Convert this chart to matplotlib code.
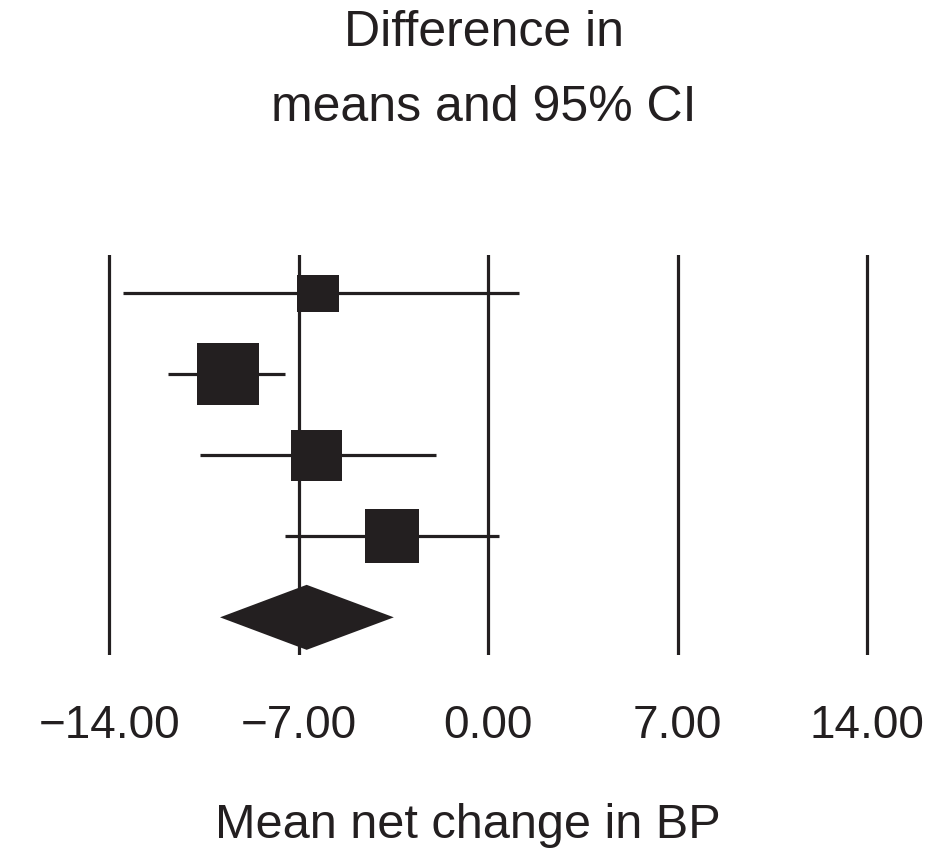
import numpy as np
import matplotlib
matplotlib.use('Agg')
from matplotlib import pyplot as plt
from matplotlib.patches import Rectangle, Polygon

plt.rcParams['font.family'] = ['Liberation Sans', 'DejaVu Sans']

# Study estimates: difference in means and 95% CI
means = [-6.30, -9.62, -6.35, -3.56]
ci_low = [-13.48, -11.83, -10.65, -7.51]
ci_high = [1.13, -7.51, -1.93, 0.40]
# box sizes (weights), width/height in pixels
box_w = [42, 62, 51, 54]
box_h = [37, 62, 51, 54]

# pooled estimate
pooled_mean = -6.71
pooled_low = -9.91
pooled_high = -3.49

ticks = [-14, -7, 0, 7, 14]
tick_labels = ['\u221214.00', '\u22127.00', '0.00', '7.00', '14.00']

ink = '#231f20'
px_x = 27.07   # pixels per x unit
px_row = 81.0  # pixels per row

fig = plt.figure(figsize=(9.48, 8.5), dpi=100)
ax = fig.add_axes([0, 1 - 655 / 850, 1, 400 / 850])
ax.set_xlim(-14 - 109.3 / px_x, (948 - 488.3) / px_x)
ax.set_ylim(4.465, -0.473)

for t in ticks:
    ax.axvline(t, color=ink, lw=2.3, zorder=1)

rows = np.arange(len(means))
ax.hlines(rows, ci_low, ci_high, color=ink, lw=2.3, zorder=2)
for r, m, w, h in zip(rows, means, box_w, box_h):
    ax.add_patch(Rectangle((m - w / px_x / 2, r - h / px_row / 2), w / px_x, h / px_row,
                           facecolor=ink, edgecolor='none', zorder=3))

r_pool = len(means)
half_h = 32.5 / px_row
diamond = [(pooled_low, r_pool), (pooled_mean, r_pool - half_h),
           (pooled_high, r_pool), (pooled_mean, r_pool + half_h)]
ax.add_patch(Polygon(diamond, closed=True, facecolor=ink, edgecolor='none', zorder=3))

for s in ax.spines.values():
    s.set_visible(False)
ax.set_yticks([])
ax.set_xticks(ticks)
ax.set_xticklabels(tick_labels, fontsize=33, color=ink)
ax.tick_params(axis='x', length=0, pad=35)

ax.set_xlabel('Mean net change in BP', fontsize=35, color=ink)
ax.xaxis.set_label_coords(468 / 948, -0.37)

ax.set_title('Difference in\nmeans and 95% CI', fontsize=36, color=ink,
             linespacing=1.8, x=484 / 948, y=1.31, va='bottom', pad=0)

plt.savefig('out.png', dpi=100)
